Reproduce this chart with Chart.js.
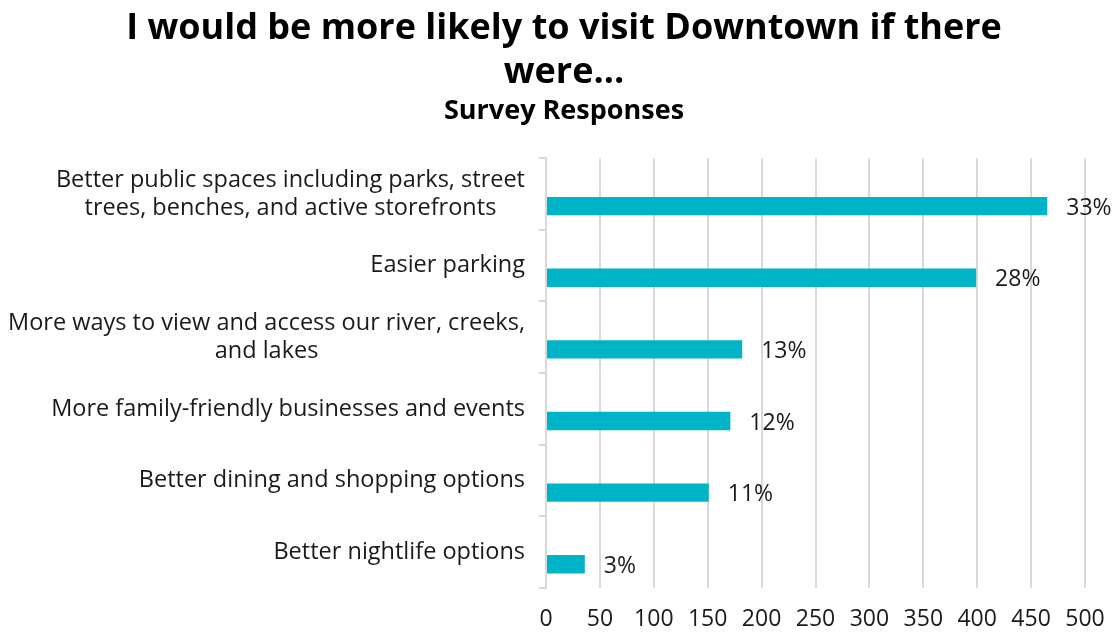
<!DOCTYPE html>
<html>
<head>
<meta charset="utf-8">
<script src="https://cdn.jsdelivr.net/npm/chart.js@4"></script>
<style>
  html, body { margin: 0; padding: 0; background: #fff; }
  #wrap { width: 1117px; height: 632px; }
</style>
</head>
<body>
<div id="wrap"><canvas id="visitChart"></canvas></div>
<script>
const categories = [
  ['Better public spaces including parks, street', 'trees, benches, and active storefronts'],
  ['Easier parking'],
  ['More ways to view and access our river, creeks,', 'and lakes'],
  ['More family-friendly businesses and events'],
  ['Better dining and shopping options'],
  ['Better nightlife options']
]
const responses = [465, 399, 182, 171, 151, 36]
const shares = ['33%', '28%', '13%', '12%', '11%', '3%']

const FONT = '"Open Sans", Lato, sans-serif'
const TEXT = '#1a1a1a'
const GRID = '#d9d9d9'

// category labels: block right-aligned to the axis, lines centred inside the block
const categoryLabels = {
  id: 'categoryLabels',
  afterDraw(chart) {
    const ctx = chart.ctx
    const y = chart.scales.y
    ctx.save()
    ctx.font = '23.5px ' + FONT
    ctx.fillStyle = TEXT
    ctx.textAlign = 'center'
    ctx.textBaseline = 'middle'
    const right = y.right - 21
    const lh = 28
    categories.forEach((lines, i) => {
      const w = Math.max(...lines.map((l) => ctx.measureText(l).width))
      const cx = right - w / 2
      const cy = y.getPixelForTick(i) - (lines.length - 1) * lh / 2
      lines.forEach((l, k) => ctx.fillText(l, cx, cy + k * lh))
    })
    ctx.restore()
  }
}

// percentage labels next to each bar
const shareLabels = {
  id: 'shareLabels',
  afterDatasetsDraw(chart) {
    const ctx = chart.ctx
    const meta = chart.getDatasetMeta(1)
    ctx.save()
    ctx.font = '23px ' + FONT
    ctx.fillStyle = TEXT
    ctx.textAlign = 'left'
    ctx.textBaseline = 'middle'
    meta.data.forEach((bar, i) => {
      ctx.fillText(shares[i], bar.x + 19, bar.y + 2)
    })
    ctx.restore()
  }
}

new Chart(document.getElementById('visitChart'), {
  type: 'bar',
  data: {
    labels: categories.map((c) => c.join(' ')),
    datasets: [
      { label: '', data: categories.map(() => null) },
      {
        label: 'Survey Responses',
        data: responses,
        backgroundColor: '#00b4c8'
      }
    ]
  },
  options: {
    indexAxis: 'y',
    responsive: true,
    maintainAspectRatio: false,
    animation: false,
    datasets: { bar: { categoryPercentage: 0.673, barPercentage: 0.76 } },
    layout: { padding: { left: 11, right: 0, top: 0, bottom: 0 } },
    plugins: {
      legend: { display: false },
      tooltip: { enabled: false },
      title: {
        display: true,
        text: ['I would be more likely to visit Downtown if there', 'were...'],
        color: '#000',
        font: { family: FONT, size: 36, weight: 'bold', lineHeight: 1.22 },
        padding: { top: 7, bottom: 0 }
      },
      subtitle: {
        display: true,
        text: 'Survey Responses',
        color: '#000',
        font: { family: FONT, size: 27, weight: 'bold' },
        padding: { top: 0, bottom: 31 }
      }
    },
    scales: {
      x: {
        min: 0,
        max: 500,
        afterFit(scale) {
          scale.height = 44
          scale.paddingRight = 32
        },
        ticks: {
          stepSize: 50,
          color: TEXT,
          font: { family: FONT, size: 23 },
          padding: 18
        },
        grid: { color: GRID, lineWidth: 2, drawTicks: false },
        border: { display: false }
      },
      y: {
        afterFit(scale) { scale.width = 535 },
        ticks: { color: 'transparent', font: { family: FONT, size: 22 } },
        grid: {
          offset: true,
          drawOnChartArea: false,
          drawTicks: true,
          tickLength: 7,
          color: GRID,
          lineWidth: 2
        },
        border: { display: true, color: GRID, width: 2 }
      }
    }
  },
  plugins: [categoryLabels, shareLabels]
})
</script>
</body>
</html>
